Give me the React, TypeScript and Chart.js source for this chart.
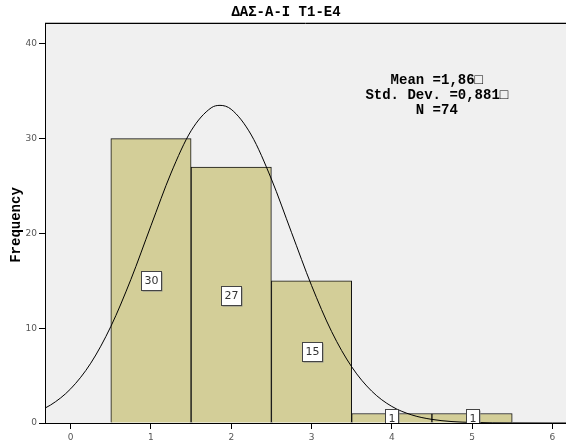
import React, { useEffect, useRef } from "react";
import { Chart, registerables } from "chart.js";
Chart.register(...registerables);

const chartTitle = "ΔΑΣ-Α-Ι T1-E4";
const yAxisTitle = "Frequency";
const binCenters = [1, 2, 3, 4, 5];
const frequencies = [30, 27, 15, 1, 1];
const statLines = ["Mean =1,86\u25A1", "Std. Dev. =0,881\u25A1", "N =74"];
const curveX = [-0.5, -0.25, 0, 0.25, 0.5, 0.75, 1, 1.25, 1.5, 1.75, 1.86, 2, 2.25, 2.5, 2.75, 3, 3.25, 3.5, 3.75, 4, 4.25, 4.5, 4.75, 5, 5.25, 5.5, 6, 6.5];
const curveY = [0.93, 1.9, 3.61, 6.31, 10.18, 15.15, 20.81, 26.37, 30.83, 33.25, 33.51, 33.09, 30.38, 25.74, 20.12, 14.51, 9.65, 5.93, 3.36, 1.75, 0.85, 0.38, 0.15, 0.06, 0.02, 0.01, 0, 0];
const xMin = -0.32;
const xMax = 6.17;
const yMax = 42.2;

const MONO = '"Liberation Mono", "Courier New", monospace';
const SANS = '"DejaVu Sans", sans-serif';

const decorPlugin = {
  id: "decor",
  beforeDraw(chart: any) {
    const { ctx, chartArea: a } = chart;
    ctx.save();
    ctx.fillStyle = "#f0f0f0";
    ctx.fillRect(a.left, a.top, a.right - a.left, a.bottom - a.top);
    ctx.strokeStyle = "#bbbbbb";
    ctx.lineWidth = 1;
    ctx.beginPath();
    ctx.moveTo(a.left, a.top - 0.5);
    ctx.lineTo(a.right, a.top - 0.5);
    ctx.stroke();
    ctx.strokeStyle = "#000";
    ctx.beginPath();
    ctx.moveTo(a.left, a.top + 0.5);
    ctx.lineTo(a.right, a.top + 0.5);
    ctx.stroke();
    ctx.restore();
  },
  afterDatasetsDraw(chart: any) {
    const { ctx, chartArea: a, scales } = chart;
    ctx.save();
    ctx.beginPath();
    ctx.rect(a.left, a.top, a.right - a.left, a.bottom - a.top);
    ctx.clip();
    ctx.font = "11px " + SANS;
    ctx.textAlign = "center";
    ctx.textBaseline = "middle";
    frequencies.forEach((v, i) => {
      const x = scales.x.getPixelForValue(binCenters[i]);
      const y = scales.y.getPixelForValue(v / 2);
      const text = String(v);
      const tw = ctx.measureText(text).width;
      const w = Math.round(tw + 6);
      const h = 19;
      const l = Math.round(x - w / 2) + 0.5;
      const t = Math.round(y - h / 2) + 0.5;
      ctx.fillStyle = "#8a8a8a";
      ctx.fillRect(l + 1, t + 1, w, h);
      ctx.fillStyle = "#ffffff";
      ctx.fillRect(l, t, w, h);
      ctx.strokeStyle = "#444";
      ctx.lineWidth = 1;
      ctx.strokeRect(l, t, w, h);
      ctx.fillStyle = "#333";
      ctx.fillText(text, l + w / 2, t + h / 2 + 0.5);
    });
    ctx.restore();
  },
  afterDraw(chart: any) {
    const { ctx, chartArea: a, width } = chart;
    ctx.save();
    ctx.fillStyle = "#000";
    ctx.textAlign = "center";
    ctx.textBaseline = "middle";
    ctx.font = "bold 14px " + MONO;
    ctx.fillText(chartTitle, width / 2 + 3, 12);
    const cx = a.left + 0.752 * (a.right - a.left);
    statLines.forEach((s, i) => {
      ctx.fillText(s, cx, a.top + 57 + i * 15);
    });
    ctx.translate(16, (a.top + a.bottom) / 2 + 2);
    ctx.rotate(-Math.PI / 2);
    ctx.fillText(yAxisTitle, 0, 0);
    ctx.restore();
  },
};

export default function App() {
  const ref = useRef<HTMLCanvasElement | null>(null);
  useEffect(() => {
    document.body.style.margin = "0";
    const canvas = ref.current!;
    const axisCommon = {
      grid: {
        display: true,
        drawOnChartArea: false,
        drawTicks: true,
        tickLength: 6,
        color: "#000",
        offset: false,
      },
      border: { display: true, color: "#000", width: 1 },
    };
    const chart = new Chart(canvas, {
      type: "bar",
      data: {
        datasets: [
          {
            type: "line",
            data: curveX.map((x, i) => ({ x, y: curveY[i] })),
            borderColor: "#000",
            borderWidth: 1,
            pointRadius: 0,
            cubicInterpolationMode: "monotone",
            fill: false,
            order: 0,
          } as any,
          {
            type: "bar",
            data: binCenters.map((x, i) => ({ x, y: frequencies[i] })),
            backgroundColor: "#d3ce98",
            borderColor: "#111",
            borderWidth: 1,
            barPercentage: 1,
            categoryPercentage: 1,
            order: 1,
          } as any,
        ],
      },
      options: {
        responsive: false,
        animation: false,
        devicePixelRatio: 1,
        layout: { padding: { top: 23, left: 0, right: 0, bottom: 0 } },
        plugins: { legend: { display: false }, tooltip: { enabled: false }, title: { display: false } },
        scales: {
          x: {
            type: "linear",
            min: xMin,
            max: xMax,
            offset: false,
            ...axisCommon,
            ticks: {
              stepSize: 1,
              includeBounds: false,
              color: "#555",
              font: { family: SANS, size: 9 },
              padding: 3,
              maxRotation: 0,
              autoSkip: false,
            },
            afterFit(s: any) {
              s.height = 20;
            },
          },
          y: {
            type: "linear",
            min: 0,
            max: yMax,
            ...axisCommon,
            ticks: {
              stepSize: 10,
              includeBounds: false,
              color: "#555",
              font: { family: SANS, size: 9 },
              padding: 2,
            },
            afterFit(s: any) {
              s.width = 45;
            },
          },
        },
      } as any,
      plugins: [decorPlugin],
    });
    return () => chart.destroy();
  }, []);
  return <canvas ref={ref} width={566} height={443} style={{ display: "block" }} />;
}
